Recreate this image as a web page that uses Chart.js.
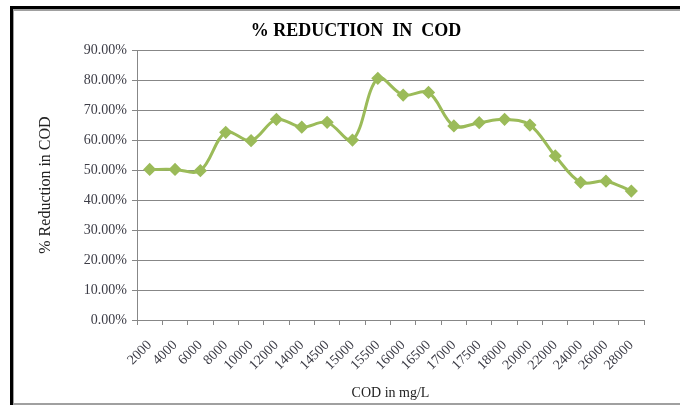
<!DOCTYPE html>
<html>
<head>
<meta charset="utf-8">
<script src="https://cdn.jsdelivr.net/npm/chart.js@4/dist/chart.umd.min.js"></script>
<style>
  body { margin: 0; background: #fff; overflow: hidden; }
  #frame { position: absolute; left: 10px; top: 6px; width: 670px; height: 399px;
           box-sizing: border-box; border-top: 3px solid #000; border-left: 3px solid #000; }
  #inner { position: absolute; left: 13px; top: 9px; width: 667px; height: 396px;
           box-sizing: border-box; border-top: 2px solid #a0a0a0; border-left: 1px solid #a0a0a0;
           border-bottom: 2px solid #a0a0a0; }
  #wrap { position: absolute; left: 14px; top: 10px; width: 684px; height: 395px; }
</style>
</head>
<body>
<div id="frame"></div>
<div id="inner"></div>
<div id="wrap"><canvas id="myChart"></canvas></div>
<script>
// COD concentration (mg/L) on the x axis
const codLabels = ['2000', '4000', '6000', '8000', '10000', '12000', '14000', '14500', '15000', '15500',
  '16000', '16500', '17000', '17500', '18000', '20000', '22000', '24000', '26000', '28000'];
// % reduction in COD
const reduction = [50.2, 50.2, 49.8, 62.6, 59.8, 66.9, 64.3, 65.9, 60.0, 80.6,
  75.0, 75.9, 64.7, 65.8, 66.9, 65.0, 54.7, 45.9, 46.3, 43.0];
const yTicks = [0, 10, 20, 30, 40, 50, 60, 70, 80, 90];

const green = '#9BBB59';
const gray = '#878787';
const tickColor = '#3c3c46';

const ctx = document.getElementById('myChart');
new Chart(ctx, {
  type: 'line',
  data: {
    labels: codLabels,
    datasets: [{
      label: '% Reduction in COD',
      data: reduction,
      borderColor: green,
      backgroundColor: green,
      borderWidth: 3,
      tension: 0.35,
      pointStyle: 'rectRot',
      pointRadius: 4.5,
      pointBackgroundColor: green,
      pointBorderColor: green
    }]
  },
  options: {
    responsive: true,
    maintainAspectRatio: false,
    animation: false,
    layout: { padding: { left: 10, right: 10, top: 0, bottom: 0 } },
    plugins: {
      legend: false,
      tooltip: { enabled: false },
      title: {
        display: true,
        text: '% REDUCTION  IN  COD',
        color: '#000',
        font: { family: 'Liberation Serif', size: 18, weight: 'bold' },
        padding: { top: 11, bottom: 7.5 }
      }
    },
    scales: {
      x: {
        offset: true,
        grid: { offset: true, drawOnChartArea: false, color: gray, tickLength: 5 },
        border: { color: gray },
        ticks: {
          color: tickColor,
          font: { family: 'Liberation Serif', size: 14 },
          minRotation: 45,
          maxRotation: 45,
          padding: 12,
          autoSkip: false
        },
        title: {
          display: true,
          text: 'COD in mg/L',
          color: '#222',
          font: { family: 'Liberation Serif', size: 14 },
          padding: { top: 0, bottom: 3 }
        },
        afterFit: function (scale) { scale.height = 85; }
      },
      y: {
        min: 0,
        max: 90,
        afterBuildTicks: function (scale) {
          scale.ticks = yTicks.map(function (v) { return { value: v }; });
        },
        grid: { color: gray, tickLength: 5 },
        border: { color: gray },
        ticks: {
          color: tickColor,
          font: { family: 'Liberation Serif', size: 14 },
          padding: 5,
          callback: function (v) { return v.toFixed(2) + '%'; }
        },
        title: {
          display: true,
          text: '% Reduction in COD',
          color: '#222',
          font: { family: 'Liberation Serif', size: 16 },
          padding: { top: 12, bottom: 0 }
        },
        afterFit: function (scale) { scale.width = 113; }
      },
      // empty right axis, only keeps the plot clear of the right edge
      yRight: {
        position: 'right',
        display: true,
        grid: { display: false },
        border: { display: false },
        ticks: { display: false },
        afterFit: function (scale) { scale.width = 44; }
      }
    }
  }
});
</script>
</body>
</html>
